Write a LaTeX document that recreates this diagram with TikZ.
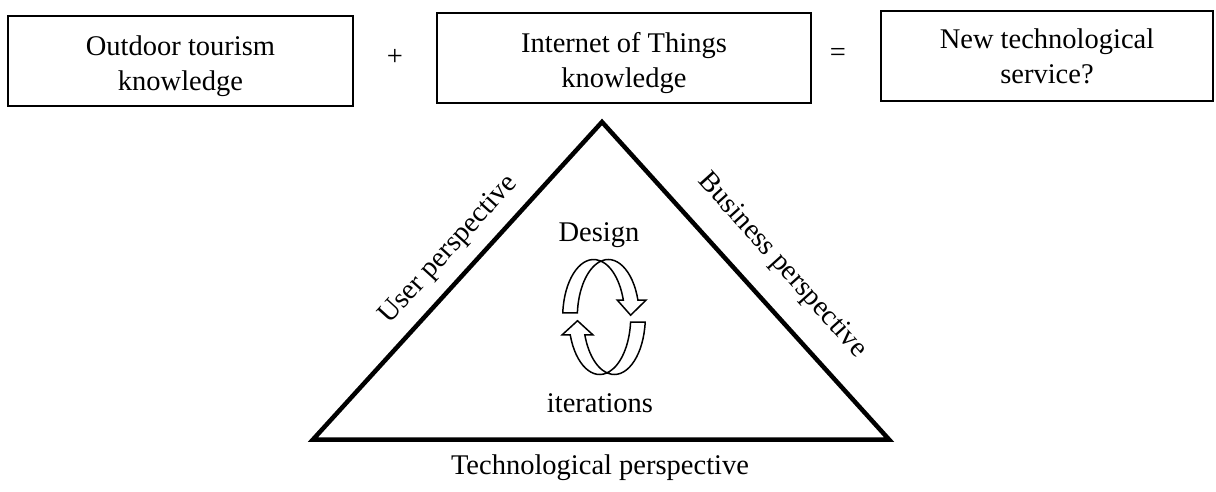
\documentclass[tikz,border=0pt]{standalone}
\usepackage{fontspec}
\setmainfont{Liberation Serif}
\usetikzlibrary{calc}
\begin{document}
\begin{tikzpicture}[x=1pt,y=1pt,
  box/.style={draw, line width=1.6pt, inner sep=0pt},
  lbl/.style={font=\fontsize{28.5}{35}\selectfont, align=center, inner sep=0pt},
  tri/.style={line width=4.5pt, line join=miter, miter limit=10},
  rib/.style={draw, line width=1.5pt, fill=white, line join=miter}]
\useasboundingbox (0,0) rectangle (1216,491);
% top boxes
\node[box, minimum width=345, minimum height=90] (b1) at (180.5,430) {};
\node[box, minimum width=374, minimum height=90] (b2) at (624,433) {};
\node[box, minimum width=332, minimum height=90] (b3) at (1047,435) {};
\node[lbl] (t1) at ($(b1)+(0,-5)$) {Outdoor tourism\\knowledge};
\node[lbl] (t2) at ($(b2)+(0,-5)$) {Internet of Things\\knowledge};
\node[lbl] (t3) at (b3) {New technological\\service?};
\node[lbl] (plus) at (395,434) {+};
\node[lbl] (eq) at (838,436) {=};
% triangle
\coordinate (A) at (602,369);
\coordinate (B) at (313,51.5);
\coordinate (C) at (889,51.5);
\draw[tri] (A) -- (B) -- (C) -- cycle;
\node[lbl, rotate=47.7] (user) at (449,241) {User perspective};
\node[lbl, rotate=-48] (bus) at (782,225) {Business perspective};
\node[lbl] (tech) at (600,23) {Technological perspective};
\node[lbl] (design) at (599,256) {Design};
\node[lbl] (iter) at (600,88) {iterations};
% cycle arrows
\coordinate (c1) at (593.7,174);
\coordinate (c2) at (608.3,174);
\coordinate (h1) at ($(c1)+(17:31 and 57.5)$);
\coordinate (h2) at ($(c2)+(17:31 and 57.5)$);
\coordinate (tipU) at ($(h1)!0.5!(h2)+(0,-15)$);
\draw[rib] ($(c1)+(176:31 and 57.5)$) arc[start angle=176, end angle=17, x radius=31, y radius=57.5]
  -- ($(h1)+(-6,0)$) -- (tipU) -- ($(h2)+(8,0)$) -- (h2)
  arc[start angle=17, end angle=176, x radius=31, y radius=57.5] -- cycle;
\coordinate (d1) at (599.7,174);
\coordinate (d2) at (614.3,174);
\coordinate (g1) at ($(d1)+(-162:31 and 57.5)$);
\coordinate (g2) at ($(d2)+(-162:31 and 57.5)$);
\coordinate (tipL) at ($(g1)!0.5!(g2)+(0,14)$);
\draw[rib] ($(d2)+(-5:31 and 57.5)$) arc[start angle=-5, end angle=-162, x radius=31, y radius=57.5]
  -- ($(g2)+(8,0)$) -- (tipL) -- ($(g1)+(-8,0)$) -- (g1)
  arc[start angle=-162, end angle=-5, x radius=31, y radius=57.5] -- cycle;
\end{tikzpicture}
\end{document}
